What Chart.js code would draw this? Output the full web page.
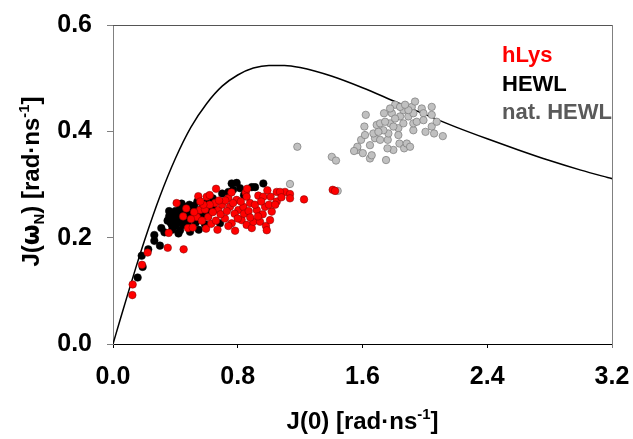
<!DOCTYPE html>
<html>
<head>
<meta charset="utf-8">
<script src="https://cdn.jsdelivr.net/npm/chart.js@4.4.1/dist/chart.umd.min.js"></script>
<style>
  html, body { margin: 0; padding: 0; background: #fff; }
  canvas { display: block; }
</style>
</head>
<body>
<canvas id="c" width="633" height="439"></canvas>
<script>
// Spectral density: J(omega_N) plotted against J(0), both in rad·ns^-1
const seriesNames = ['hLys', 'HEWL', 'nat. HEWL'];
const seriesColors = ['#ff0000', '#000000', '#5a5a5a'];

const hLys = [
  [0.124,0.092],[0.126,0.112],[0.186,0.149],[0.222,0.172],[0.351,0.181],[0.453,0.178],
  [0.357,0.209],[0.408,0.265],[0.547,0.278],[0.601,0.277],[0.661,0.292],[0.481,0.218],
  [0.511,0.219],[0.597,0.217],[0.537,0.239],[0.558,0.252],[0.590,0.253],[0.611,0.239],
  [0.654,0.265],[0.676,0.252],[0.718,0.236],[0.740,0.274],[0.750,0.258],[0.783,0.213],
  [0.793,0.271],[0.804,0.252],[0.761,0.227],[0.836,0.258],[0.851,0.285],[0.857,0.277],
  [0.879,0.265],[0.825,0.233],[0.857,0.224],[0.890,0.218],[0.900,0.230],[0.922,0.252],
  [0.932,0.279],[0.964,0.277],[0.975,0.258],[0.943,0.230],[0.981,0.222],[0.986,0.214],
  [1.011,0.277],[1.018,0.249],[1.007,0.233],[1.050,0.286],[1.050,0.268],[1.103,0.286],
  [1.135,0.282],[1.135,0.274],[1.225,0.272],[1.071,0.286],[1.409,0.290],[1.424,0.288],
  [0.620,0.262],[0.640,0.248],[0.700,0.262],[0.690,0.244],[0.720,0.270],[0.730,0.250],
  [0.770,0.265],[0.780,0.245],[0.800,0.236],[0.820,0.268],[0.840,0.245],[0.870,0.250],
  [0.880,0.238],[0.910,0.262],[0.950,0.268],[0.960,0.244],[1.000,0.262],[0.570,0.232],
  [0.630,0.226],[0.660,0.232],[0.740,0.222],[0.580,0.262],[0.520,0.248],[0.500,0.235],
  [0.680,0.270],[0.760,0.285],[0.860,0.292],[0.990,0.289],[1.080,0.276],[1.040,0.262],
  [0.930,0.240],[0.670,0.215],[0.450,0.240],[0.470,0.255],[0.620,0.280],[0.560,0.268]
];

const hewl = [
  [0.158,0.125],[0.190,0.145],[0.184,0.166],[0.226,0.178],[0.265,0.194],[0.265,0.205],
  [0.301,0.185],[0.761,0.302],[0.793,0.303],[0.815,0.293],[0.890,0.295],[0.911,0.295],
  [0.964,0.302],[0.740,0.286],[0.640,0.274],[0.541,0.268],[0.686,0.227],[0.494,0.211],
  [0.430,0.214],[0.377,0.224],[0.350,0.232],[0.360,0.240],[0.370,0.228],[0.380,0.245],
  [0.390,0.236],[0.400,0.222],[0.400,0.250],[0.410,0.232],[0.420,0.242],[0.430,0.228],
  [0.430,0.255],[0.440,0.236],[0.450,0.246],[0.450,0.224],[0.460,0.258],[0.470,0.234],
  [0.480,0.244],[0.480,0.226],[0.490,0.262],[0.500,0.250],[0.510,0.238],[0.520,0.260],
  [0.530,0.228],[0.540,0.248],[0.550,0.270],[0.560,0.240],[0.570,0.255],[0.580,0.245],
  [0.600,0.265],[0.620,0.250],[0.640,0.258],[0.380,0.215],[0.420,0.208],[0.330,0.210],
  [0.310,0.218],[0.360,0.250],[0.440,0.264],[0.700,0.283],[0.770,0.290],[0.840,0.280],
  [0.590,0.225],[0.550,0.215]
];

const natHewl = [
  [1.182,0.371],[1.403,0.352],[1.430,0.345],[1.135,0.301],[1.441,0.288],[1.567,0.365],
  [1.567,0.371],[1.591,0.384],[1.616,0.393],[1.621,0.431],[1.612,0.409],[1.648,0.349],
  [1.659,0.355],[1.648,0.374],[1.680,0.387],[1.670,0.396],[1.691,0.412],[1.713,0.415],
  [1.738,0.434],[1.751,0.346],[1.762,0.384],[1.766,0.396],[1.777,0.415],[1.788,0.434],
  [1.809,0.450],[1.798,0.365],[1.830,0.406],[1.830,0.393],[1.837,0.377],[1.841,0.428],
  [1.862,0.440],[1.862,0.415],[1.867,0.368],[1.884,0.377],[1.894,0.428],[1.905,0.371],
  [1.916,0.446],[1.926,0.402],[1.926,0.415],[1.937,0.456],[1.948,0.418],[1.926,0.434],
  [1.980,0.443],[1.991,0.434],[1.991,0.421],[2.004,0.399],[2.044,0.446],[2.044,0.431],
  [2.044,0.409],[2.059,0.396],[2.076,0.418],[2.115,0.391],[1.745,0.418],[1.809,0.424],
  [1.798,0.409],[1.734,0.402],[1.702,0.399],[1.777,0.443],[1.841,0.446],[1.894,0.440],
  [1.873,0.450],[1.760,0.368],[1.713,0.384],[1.602,0.359],[1.546,0.363]
];

// Theoretical curve, read point by point
const curveX = [0, 0.05, 0.1, 0.15, 0.2, 0.3, 0.4, 0.5, 0.6, 0.7, 0.8, 0.9, 1.0, 1.1, 1.2,
                1.4, 1.6, 1.8, 2.0, 2.2, 2.4, 2.6, 2.8, 3.0, 3.2];
const curveY = [0, 0.050, 0.099, 0.147, 0.193, 0.277, 0.349, 0.408, 0.452, 0.485, 0.506, 0.519,
                0.524, 0.524, 0.520, 0.504, 0.482, 0.457, 0.432, 0.408, 0.386, 0.365, 0.345,
                0.327, 0.311];

const xTickValues = [0, 0.8, 1.6, 2.4, 3.2];
const yTickValues = [0, 0.2, 0.4, 0.6];
const xTickLabels = ['0.0', '0.8', '1.6', '2.4', '3.2'];
const yTickLabels = ['0.0', '0.2', '0.4', '0.6'];

const FONT = '"Liberation Sans", Arial, sans-serif';
const toPts = arr => arr.map(p => ({ x: p[0], y: p[1] }));

// Draw text made of runs, some of them sub- or superscript
function richText(ctx, runs, size, cx, cy) {
  const parts = runs.map(r => {
    const s = r.sub || r.sup ? size * 0.62 : size;
    const f = (r.family || FONT);
    ctx.font = 'bold ' + s + 'px ' + f;
    return { t: r.t, font: ctx.font, w: ctx.measureText(r.t).width,
             dy: r.sub ? size * 0.22 : (r.sup ? -size * 0.42 : 0) };
  });
  const total = parts.reduce((a, p) => a + p.w, 0);
  let x = cx - total / 2;
  ctx.textBaseline = 'alphabetic';
  ctx.textAlign = 'left';
  for (const p of parts) {
    ctx.font = p.font;
    ctx.fillText(p.t, x, cy + p.dy);
    x += p.w;
  }
}

const decor = {
  id: 'decor',
  afterDraw(chart) {
    const { ctx, chartArea: a } = chart;
    ctx.save();
    // top and right frame lines
    ctx.lineWidth = 1;
    ctx.strokeStyle = '#555555';
    ctx.beginPath();
    ctx.moveTo(a.left, a.top + 0.5);
    ctx.lineTo(a.right + 1, a.top + 0.5);
    ctx.stroke();
    ctx.strokeStyle = '#808080';
    ctx.beginPath();
    ctx.moveTo(a.right + 0.5, a.top);
    ctx.lineTo(a.right + 0.5, a.bottom + 4);
    ctx.stroke();

    ctx.fillStyle = '#000';
    // x axis title
    richText(ctx, [{ t: 'J(0) [rad·ns' }, { t: '-1', sup: true }, { t: ']' }],
             24, (a.left + a.right) / 2, 429);
    // y axis title
    ctx.save();
    ctx.translate(39, (a.top + a.bottom) / 2 - 3);
    ctx.rotate(-Math.PI / 2);
    richText(ctx, [{ t: 'J(' }, { t: 'ω', family: '"DejaVu Sans", sans-serif' }, { t: 'N', sub: true },
                   { t: ') [rad·ns' }, { t: '-1', sup: true }, { t: ']' }], 24, 0, 0);
    ctx.restore();

    // series names, coloured like their marks
    ctx.font = 'bold 22px ' + FONT;
    ctx.textAlign = 'left';
    ctx.textBaseline = 'alphabetic';
    seriesNames.forEach((n, i) => {
      ctx.fillStyle = seriesColors[i];
      ctx.fillText(n, 502, 62 + i * 28.5);
    });
    ctx.restore();
  }
};

new Chart(document.getElementById('c'), {
  type: 'scatter',
  data: {
    datasets: [
      { label: seriesNames[0], data: toPts(hLys), backgroundColor: '#ff0000',
        borderColor: '#7a0000', borderWidth: 0.5, pointRadius: 3.8, pointHoverRadius: 3.8 },
      { label: seriesNames[1], data: toPts(hewl), backgroundColor: '#000000',
        borderColor: '#000000', borderWidth: 0.5, pointRadius: 3.8, pointHoverRadius: 3.8 },
      { label: seriesNames[2], data: toPts(natHewl), backgroundColor: '#c0c0c0',
        borderColor: '#7a7a7a', borderWidth: 0.7, pointRadius: 3.7, pointHoverRadius: 3.7 },
      { label: 'curve', data: curveX.map((x, i) => ({ x, y: curveY[i] })), showLine: true,
        borderColor: '#000', borderWidth: 1.5, pointRadius: 0, fill: false,
        cubicInterpolationMode: 'monotone' }
    ]
  },
  options: {
    responsive: false,
    animation: false,
    events: [],
    layout: { padding: { left: 0, top: 25, right: 21, bottom: 0 } },
    plugins: { legend: { display: false }, tooltip: { enabled: false } },
    scales: {
      x: {
        type: 'linear', min: 0, max: 3.2,
        afterBuildTicks: s => { s.ticks = xTickValues.map(v => ({ value: v })); },
        afterFit: s => { s.height = 95; s.paddingLeft = 0; s.paddingRight = 0; },
        ticks: { callback: (v) => xTickLabels[xTickValues.indexOf(v)] ?? '',
                 font: { family: FONT, size: 25, weight: 'bold' }, color: '#000',
                 padding: 14, maxRotation: 0, autoSkip: false },
        grid: { drawOnChartArea: false, drawTicks: true, tickLength: 4, color: '#000' },
        border: { color: '#000', width: 1 }
      },
      y: {
        type: 'linear', min: 0, max: 0.6,
        afterBuildTicks: s => { s.ticks = yTickValues.map(v => ({ value: v })); },
        afterFit: s => { s.width = 113; s.paddingTop = 0; s.paddingBottom = 0; },
        ticks: { callback: (v) => yTickLabels[yTickValues.indexOf(v)] ?? '',
                 font: { family: FONT, size: 25, weight: 'bold' }, color: '#000',
                 padding: 15 },
        grid: { drawOnChartArea: false, drawTicks: true, tickLength: 6, color: '#808080' },
        border: { color: '#808080', width: 1 }
      }
    }
  },
  plugins: [decor]
});
</script>
</body>
</html>
